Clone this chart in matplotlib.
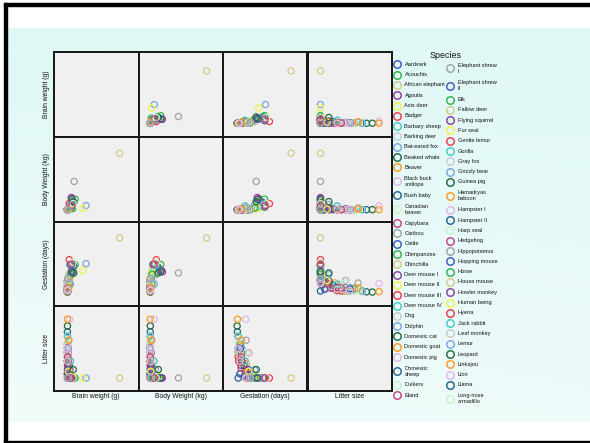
import matplotlib
matplotlib.use('Agg')
import matplotlib.pyplot as plt
import numpy as np
from matplotlib.patches import Rectangle

plt.rcParams['font.family'] = ['Liberation Sans', 'DejaVu Sans']

# ---------------- data ----------------
species = [
    "Aardvark", "Acouchis", "African elephant", "Agoutis", "Axis deer", "Badger",
    "Barbary sheep", "Barking deer", "Bat-eared fox", "Beaked whale", "Beaver",
    "Black buck antilope", "Bush baby", "Canadian beaver", "Capybara", "Caribou",
    "Cattle", "Chimpanzee", "Chinchilla", "Deer mouse I", "Deer mouse II",
    "Deer mouse III", "Deer mouse IV", "Dog", "Dolphin", "Domestic cat",
    "Domestic goat", "Domestic pig", "Domestic sheep", "Duikers", "Eland",
    "Elephant shrew I", "Elephant shrew II", "Elk", "Fallow deer", "Flying squirrel",
    "Fur seal", "Gentle lemur", "Gorilla", "Gray fox", "Grizzly bear", "Guinea pig",
    "Hamadryas baboon", "Hampster I", "Hampster II", "Harp seal", "Hedgehog",
    "Hippopotamus", "Hopping mouse", "Horse", "House mouse", "Howler monkey",
    "Human being", "Hyena", "Jack rabbit", "Leaf monkey", "Lemur", "Leopard",
    "Linkajou", "Lion", "Llama", "Long-nose armadillo",
    "Lynx", "Macaque", "Marmoset", "Mink", "Mole", "Mongoose", "Moose",
    "Mountain beaver", "Musk-rat", "Nine-band armadillo", "Okapi", "Opossum",
    "Pika", "Porcupine", "Quokka", "Rabbit", "Raccoon", "Red river hog", "Red fox",
    "Reindeer", "Rhesus monkey", "Rhinoceros", "Roe deer", "Tapir", "Tiger",
    "Tree shrew", "Vervet", "Polar bear", "Wolf", "Woodchuck", "Yak", "Zebra",
    "Sea lion", "Squirrel monkey",
]
brain = [
    9.6, 9.9, 4480, 20.3, 219, 53, 157, 81, 27, 550, 45, 102, 5.0, 45, 75, 390,
    423, 440, 6.4, 0.7, 0.75, 0.8, 0.85, 72, 1600, 25.6, 115, 180, 140, 62, 350,
    1.14, 1.37, 400, 150, 4.0, 350, 9.5, 406, 40, 234, 4.8, 180, 1.2, 1.0, 250,
    3.5, 582, 1.0, 655, 0.4, 50, 1320, 150, 12, 70, 22, 150, 25, 240, 225, 10,
    70, 90, 7.7, 12, 1.2, 10, 450, 8, 8, 10, 400, 7.6, 1.2, 25, 17.5, 10, 39,
    100, 50, 300, 90, 340, 90, 155, 260, 3.15, 60, 500, 120, 14, 400, 500, 360, 25,
]
body = [
    2.2, 0.78, 2800, 2.8, 89, 6, 35, 14, 4.5, 350, 20, 36, 0.2, 25, 50, 110,
    465, 52, 0.5, 0.02, 0.021, 0.025, 0.026, 14, 200, 3.3, 27.7, 192, 55.5, 14, 560,
    0.049, 0.064, 400, 60, 0.1, 150, 0.9, 150, 4, 250, 0.7, 20, 0.12, 0.1, 140,
    0.93, 1400, 0.03, 521, 0.023, 6.6, 62, 50, 3, 8, 2.1, 50, 2.5, 180, 130, 4,
    15, 8, 0.35, 1, 0.08, 1.5, 450, 1, 1.2, 4, 230, 3, 0.02, 10, 3.5, 2.5, 4.3,
    80, 5, 100, 7, 600, 22, 300, 180, 0.15, 4, 400, 35, 4, 500, 300, 200, 0.8,
]
gestation = [
    31, 98, 655, 104, 218, 60, 154, 210, 70, 320, 122, 180, 130, 120, 150, 225,
    284, 231, 111, 23, 24, 25, 24, 63, 350, 63, 150, 115, 150, 210, 270,
    51, 46, 250, 230, 40, 350, 150, 265, 52, 220, 68, 175, 16, 16, 240,
    34, 240, 32, 340, 19, 139, 270, 110, 42, 170, 135, 95, 112, 108, 340, 120,
    63, 165, 145, 50, 30, 60, 240, 30, 29, 150, 330, 13, 18, 112, 26, 31, 63,
    120, 52, 225, 165, 252, 150, 397, 105, 46, 165, 240, 63, 32, 258, 365, 345, 170,
]
litter = [
    5.0, 1.2, 1, 1.3, 1, 2.2, 1.2, 1, 4.5, 1, 2.7, 1.2, 1.5, 3, 4, 1,
    1, 1, 2, 4, 4, 3.5, 4.5, 5, 1, 4, 1.6, 8, 1.4, 1, 1,
    1.5, 1.5, 1, 1, 3, 1, 1, 1, 4, 2, 3, 1, 6, 6.5, 1,
    4.6, 1, 4, 1, 6, 1, 1, 2, 3, 1, 1, 2.5, 1, 3, 1, 4,
    3, 1, 2, 5, 4, 2.5, 1.2, 3, 6, 4, 1, 7.2, 8, 1, 1, 5, 3.5,
    5.5, 4.5, 1, 1, 1, 1.8, 1, 3, 3, 1, 2, 5.5, 4.5, 1, 1, 1, 1,
]
variables = ["Brain weight (g)", "Body Weight (kg)", "Gestation (days)", "Litter size"]
legend_title = "Species"
legend_count = 62          # the legend only lists the first 62 species

palette = ['#3a5bbf', '#2db34a', '#d8c98a', '#8e3d9e', '#f5f04a', '#ef3b47',
           '#45c9c4', '#cccccc', '#79a6e6', '#1f6b3e', '#ff9a1f', '#e2b6f0',
           '#24658a', '#c7f5c4', '#cc3f84', '#a3a3a3']

# ---------------- figure ----------------
W, H = 590, 443
fig = plt.figure(figsize=(W / 100, H / 100), dpi=100)
fig.patch.set_facecolor('white')

bg = fig.add_axes([0, 0, 1, 1])
bg.axis('off')
top_c = np.array([0xdf, 0xf8, 0xf6]) / 255
bot_c = np.array([0xf2, 0xfc, 0xfb]) / 255
ny, nx = 200, 300
yy, xx = np.mgrid[0:1:ny * 1j, 0:1:nx * 1j]
t = np.clip(0.75 * yy + 0.25 * yy * (1 - xx), 0, 1)
grad = top_c[None, None, :] * (1 - t[..., None]) + bot_c[None, None, :] * t[..., None]
bg.imshow(grad, extent=(7, 590, 422, 28), aspect='auto', zorder=0, interpolation='bilinear')
bg.add_patch(Rectangle((4, 3.3), 586, 2.5, color='black', zorder=2))
bg.add_patch(Rectangle((4, 3.3), 3, 439.5, color='black', zorder=2))
bg.add_patch(Rectangle((4, 440.6), 586, 2.2, color='black', zorder=2))
bg.set_xlim(0, W)
bg.set_ylim(H, 0)

data = [np.array(brain), np.array(body), np.array(gestation), np.array(litter)]
limits = [(-1150, 6100), (-585, 3615), (-155, 850), (-0.55, 9.55)]
colors = [palette[k % len(palette)] for k in range(len(species))]

gx0, gy0, cw, ch = 54, 52, 84.5, 84.75
for i in range(4):
    for j in range(4):
        left = gx0 + j * cw
        top = gy0 + i * ch
        ax = fig.add_axes([left / W, 1 - (top + ch) / H, cw / W, ch / H])
        ax.set_facecolor('#f0f0f0')
        for sp in ax.spines.values():
            sp.set_linewidth(1.4)
            sp.set_color('#151515')
        ax.set_xticks([])
        ax.set_yticks([])
        ax.set_xlim(*limits[j])
        ax.set_ylim(*limits[i])
        if i != j:
            ax.scatter(data[j], data[i], s=20, facecolors='none',
                       edgecolors=colors, linewidths=0.9)

for k, v in enumerate(variables):
    bg.text(gx0 + (k + 0.5) * cw, 397, v, ha='center', va='center', fontsize=4.9, color='#111111')
    bg.text(47, gy0 + (k + 0.5) * ch, v, ha='center', va='center', rotation=90,
            fontsize=4.9, color='#111111')

# ---------------- legend ----------------
bg.text(446, 55.5, legend_title, ha='center', va='center', fontsize=6.4, color='#111111')
wrapped = {"Black buck antilope": "Black buck\nantilope",
           "Canadian beaver": "Canadian\nbeaver",
           "Domestic sheep": "Domestic\nsheep",
           "Elephant shrew I": "Elephant shrew\nI",
           "Elephant shrew II": "Elephant shrew\nII",
           "Hamadryas baboon": "Hamadryas\nbaboon",
           "Long-nose armadillo": "Long-nose\narmadillo"}
col_marker_x = [397, 450]
col_text_x = [404.5, 458]
per_col = 31
for c in range(2):
    y = 59.2
    for k in range(c * per_col, min((c + 1) * per_col, legend_count)):
        label = wrapped.get(species[k], species[k])
        h = 17.6 if '\n' in label else 10.3
        cy = y + h / 2
        bg.plot(col_marker_x[c], cy, 'o', ms=5.4, mfc='none', mec=colors[k], mew=1.05, zorder=3)
        bg.text(col_text_x[c], cy, label, ha='left', va='center', fontsize=4.1,
                color='#111111', linespacing=1.25, zorder=3)
        y += h

fig.savefig('out.png', dpi=100)
